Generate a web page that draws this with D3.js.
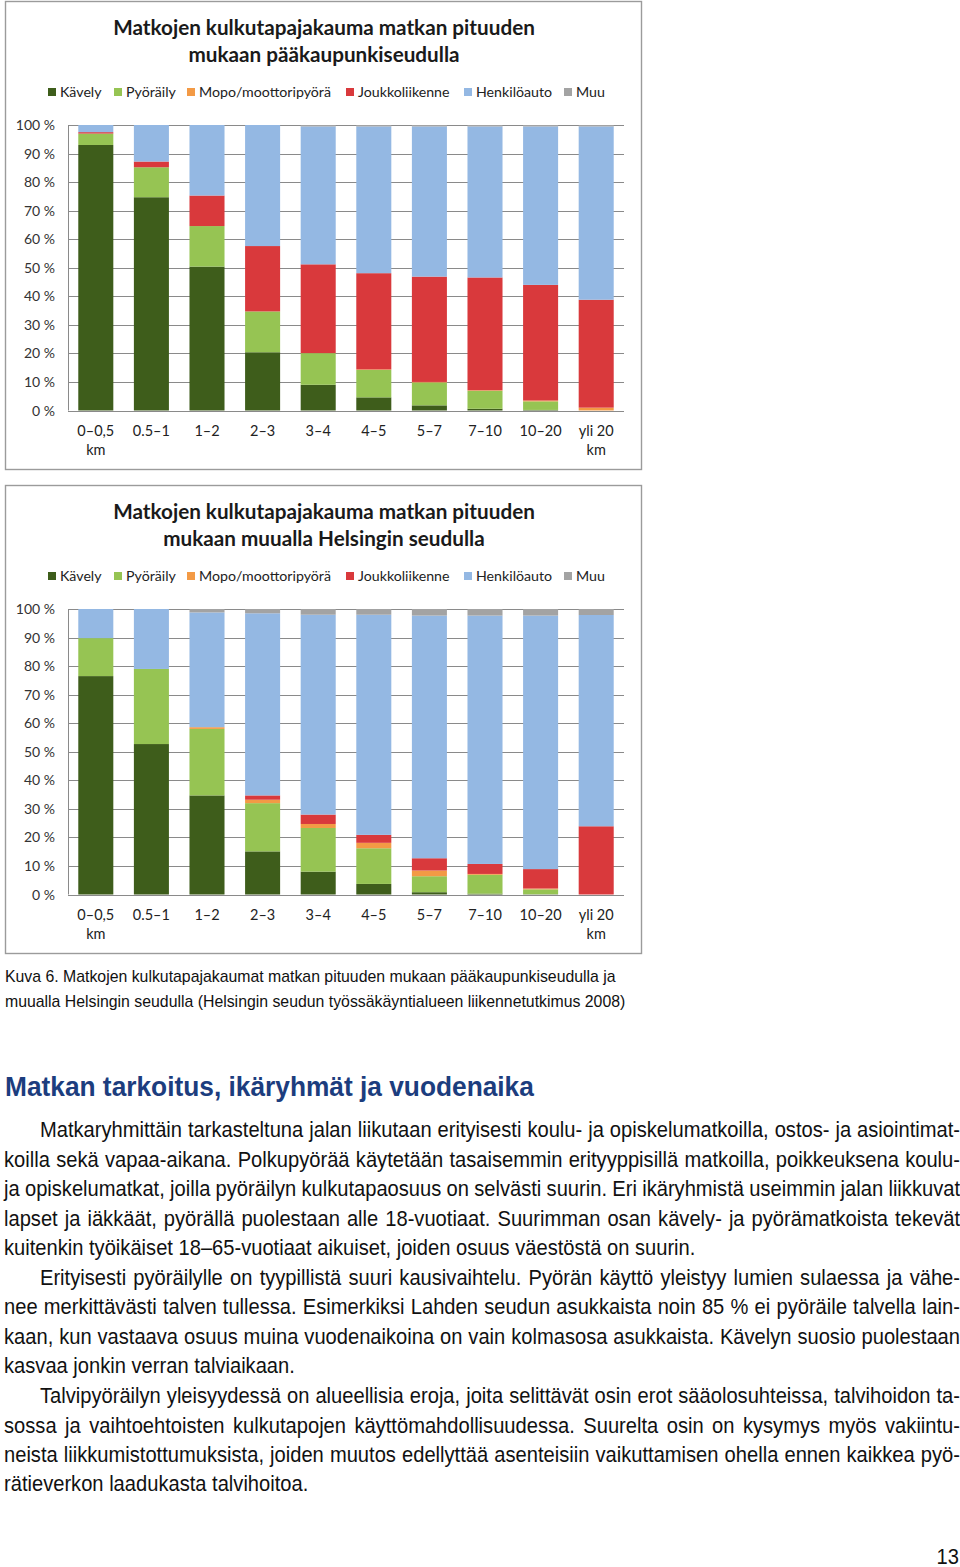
<!DOCTYPE html>
<html><head><meta charset="utf-8">
<script src="https://cdn.jsdelivr.net/npm/d3@7/dist/d3.min.js"></script>
<style>body{margin:0;background:#fff}svg{display:block}</style>
</head><body>
<script>
// ---------- DATA ----------
const categories = ["0–0,5","0.5–1","1–2","2–3","3–4","4–5","5–7","7–10","10–20","yli 20"];
const categorySub = ["km","","","","","","","","","km"];
const seriesNames = ["Kävely","Pyöräily","Mopo/moottoripyörä","Joukkoliikenne","Henkilöauto","Muu"];
const seriesColors = ["#3e5d1b","#96c453","#f39a45","#d9393c","#94b8e3","#a3a3a3"];
const yTicks = [0,10,20,30,40,50,60,70,80,90,100];
const yTickLabels = ["0 %","10 %","20 %","30 %","40 %","50 %","60 %","70 %","80 %","90 %","100 %"];

// Chart 1: pääkaupunkiseutu
const title1 = ["Matkojen kulkutapajakauma matkan pituuden","mukaan pääkaupunkiseudulla"];
const walk1    = [93,   74.7, 50.4, 20.4,  9,    4.6,  1.8,  0.6,  0.2,  0];
const cycle1   = [4,    10.5, 14.2, 14.3, 11.1,  9.6,  8,    6.3,  3,    0];
const moped1   = [0,    0,    0,    0,     0,    0.2,  0.2,  0.2,  0.3,  1];
const transit1 = [0.5,  2,    10.7, 22.9, 31.1, 33.7, 36.9, 39.5, 40.5, 37.8];
const car1     = [2.5,  12.8, 24.7, 42.4, 48.3, 51.4, 52.6, 52.9, 55.5, 60.7];
const muu1     = [0,    0,    0,    0,     0.5,  0.5,  0.5,  0.5,  0.5,  0.5];

// Chart 2: muu Helsingin seutu
const title2 = ["Matkojen kulkutapajakauma matkan pituuden","mukaan muualla Helsingin seudulla"];
const walk2    = [76.5, 52.7, 34.7, 15.1,  8,    3.7,  0.8,  0.3,  0.1,  0];
const cycle2   = [13.3, 26.3, 23.3, 16.9, 15.3, 12.5,  5.6,  6.6,  1.7,  0];
const moped2   = [0,    0,    0.6,  1.2,   1.4,  1.9,  2,    0.3,  0.3,  0];
const transit2 = [0,    0,    0,    1.5,   3.3,  2.8,  4.3,  3.5,  6.8, 23.9];
const car2     = [10.2, 21,   40.2, 63.8, 70,   77.1, 85,   87,   88.8, 74];
const muu2     = [0,    0,    1.2,  1.5,   2,    2,    2.3,  2.3,  2.3,  2.1];

// ---------- TEXT ----------
const captionLines = [
 "Kuva 6. Matkojen kulkutapajakaumat matkan pituuden mukaan pääkaupunkiseudulla ja",
 "muualla Helsingin seudulla (Helsingin seudun työssäkäyntialueen liikennetutkimus 2008)"
];
const heading = "Matkan tarkoitus, ikäryhmät ja vuodenaika";
// [text, indent, justify]
const bodyLines = [
 ["Matkaryhmittäin tarkasteltuna jalan liikutaan erityisesti koulu- ja opiskelumatkoilla, ostos- ja asiointimat-",1,1],
 ["koilla sekä vapaa-aikana. Polkupyörää käytetään tasaisemmin erityyppisillä matkoilla, poikkeuksena koulu-",0,1],
 ["ja opiskelumatkat, joilla pyöräilyn kulkutapaosuus on selvästi suurin. Eri ikäryhmistä useimmin jalan liikkuvat",0,1],
 ["lapset ja iäkkäät, pyörällä puolestaan alle 18-vuotiaat. Suurimman osan kävely- ja pyörämatkoista tekevät",0,1],
 ["kuitenkin työikäiset 18–65-vuotiaat aikuiset, joiden osuus väestöstä on suurin.",0,0],
 ["Erityisesti pyöräilylle on tyypillistä suuri kausivaihtelu. Pyörän käyttö yleistyy lumien sulaessa ja vähe-",1,1],
 ["nee merkittävästi talven tullessa. Esimerkiksi Lahden seudun asukkaista noin 85 % ei pyöräile talvella lain-",0,1],
 ["kaan, kun vastaava osuus muina vuodenaikoina on vain kolmasosa asukkaista. Kävelyn suosio puolestaan",0,1],
 ["kasvaa jonkin verran talviaikaan.",0,0],
 ["Talvipyöräilyn yleisyydessä on alueellisia eroja, joita selittävät osin erot sääolosuhteissa, talvihoidon ta-",1,1],
 ["sossa ja vaihtoehtoisten kulkutapojen käyttömahdollisuudessa. Suurelta osin on kysymys myös vakiintu-",0,1],
 ["neista liikkumistottumuksista, joiden muutos edellyttää asenteisiin vaikuttamisen ohella ennen kaikkea pyö-",0,1],
 ["rätieverkon laadukasta talvihoitoa.",0,0]
];
const pageNumber = "13";

// ---------- DRAW ----------
const W = 960, H = 1567;
const svg = d3.select("body").append("svg").attr("width", W).attr("height", H);
svg.append("rect").attr("width", W).attr("height", H).attr("fill", "#fff");

const chartFont = "Lato, 'Open Sans', sans-serif";
const legendX = [48, 114, 187, 346, 464, 564];

function drawChart(oy, title, arrays) {
  const g = svg.append("g");
  g.append("rect").attr("x", 5.5).attr("y", oy + 0.5).attr("width", 636).attr("height", 468)
    .attr("fill", "#fff").attr("stroke", "#9b9b9b").attr("stroke-width", 1.4);

  title.forEach((t, i) => g.append("text").attr("x", 324).attr("y", oy + 34 + i * 27)
    .attr("text-anchor", "middle").attr("font-family", chartFont).attr("font-weight", 700)
    .attr("font-size", 20.7).attr("fill", "#1a1a1a").text(t));

  seriesNames.forEach((s, i) => {
    g.append("rect").attr("x", legendX[i]).attr("y", oy + 87).attr("width", 8).attr("height", 8)
      .attr("fill", seriesColors[i]);
    g.append("text").attr("x", legendX[i] + 12).attr("y", oy + 96)
      .attr("font-family", chartFont).attr("font-size", 14.2).attr("fill", "#222").text(s);
  });

  const x = d3.scaleBand().domain(categories).range([68, 624]).paddingInner(0.37).paddingOuter(0.185);
  const y = d3.scaleLinear().domain([0, 100]).range([oy + 409.5, oy + 124]);

  // gridlines
  g.append("g").selectAll("line").data(yTicks).join("line")
    .attr("x1", 68).attr("x2", 624).attr("y1", d => Math.round(y(d)) + 0.5).attr("y2", d => Math.round(y(d)) + 0.5)
    .attr("stroke", "#8a8a8a").attr("stroke-width", 1);
  g.append("line").attr("x1", 68.5).attr("x2", 68.5).attr("y1", y(100)).attr("y2", y(0))
    .attr("stroke", "#8a8a8a");

  // y labels
  g.append("g").selectAll("text").data(yTicks).join("text")
    .attr("x", 55).attr("y", d => y(d) + 5).attr("text-anchor", "end")
    .attr("font-family", chartFont).attr("font-size", 14).attr("fill", "#333")
    .text((d, i) => yTickLabels[i]);

  // stacked bars
  const table = categories.map((c, i) => {
    const o = { cat: c };
    seriesNames.forEach((s, k) => o[s] = arrays[k][i]);
    return o;
  });
  const stacked = d3.stack().keys(seriesNames)(table);
  stacked.forEach((layer, k) => {
    g.append("g").attr("fill", seriesColors[k]).selectAll("rect").data(layer).join("rect")
      .attr("x", d => x(d.data.cat)).attr("width", x.bandwidth())
      .attr("y", d => y(d[1])).attr("height", d => Math.max(0, y(d[0]) - y(d[1])));
  });

  // x labels
  categories.forEach((c, i) => {
    const cx = x(c) + x.bandwidth() / 2;
    g.append("text").attr("x", cx).attr("y", oy + 435).attr("text-anchor", "middle")
      .attr("font-family", chartFont).attr("font-size", 14.5).attr("fill", "#222").text(c);
    if (categorySub[i]) g.append("text").attr("x", cx).attr("y", oy + 454).attr("text-anchor", "middle")
      .attr("font-family", chartFont).attr("font-size", 14.5).attr("fill", "#222").text(categorySub[i]);
  });
}

drawChart(1, title1, [walk1, cycle1, moped1, transit1, car1, muu1]);
drawChart(485, title2, [walk2, cycle2, moped2, transit2, car2, muu2]);

const bodyFont = "'Liberation Sans', Arial, sans-serif";
const SX = 0.945; // condensed look

function scaledText(x0, y, size, str, opts = {}) {
  const sx = opts.sx || SX;
  const t = svg.append("text").attr("transform", `translate(${x0},${y}) scale(${sx},1)`)
    .attr("x", 0).attr("y", 0).attr("font-family", bodyFont).attr("font-size", size)
    .attr("fill", opts.fill || "#111").text(str);
  if (opts.weight) t.attr("font-weight", opts.weight);
  if (opts.anchor) t.attr("text-anchor", opts.anchor);
  if (opts.justifyTo) {
    const w = t.node().getComputedTextLength();
    const n = (str.match(/ /g) || []).length;
    const target = (opts.justifyTo - x0) / sx;
    t.style("word-spacing", ((target - w) / n) + "px");
  }
  return t;
}

captionLines.forEach((t, i) => scaledText(5, 982 + i * 25, 16.8, t, { sx: 0.943 }));

scaledText(5, 1096, 28.5, heading, { weight: 700, fill: "#1c3d7e", sx: 0.923 });

const lineYs = [1130,1160,1189,1219,1248,1278,1307,1337,1366,1396,1426,1455,1484];
bodyLines.forEach((l, i) => {
  const x0 = l[1] ? 40 : 4;
  scaledText(x0, lineYs[i] + 7, 21.3, l[0], l[2] ? { justifyTo: 960 } : {});
});

scaledText(959, 1564, 21.3, pageNumber, { anchor: "end" });
</script>
</body></html>
